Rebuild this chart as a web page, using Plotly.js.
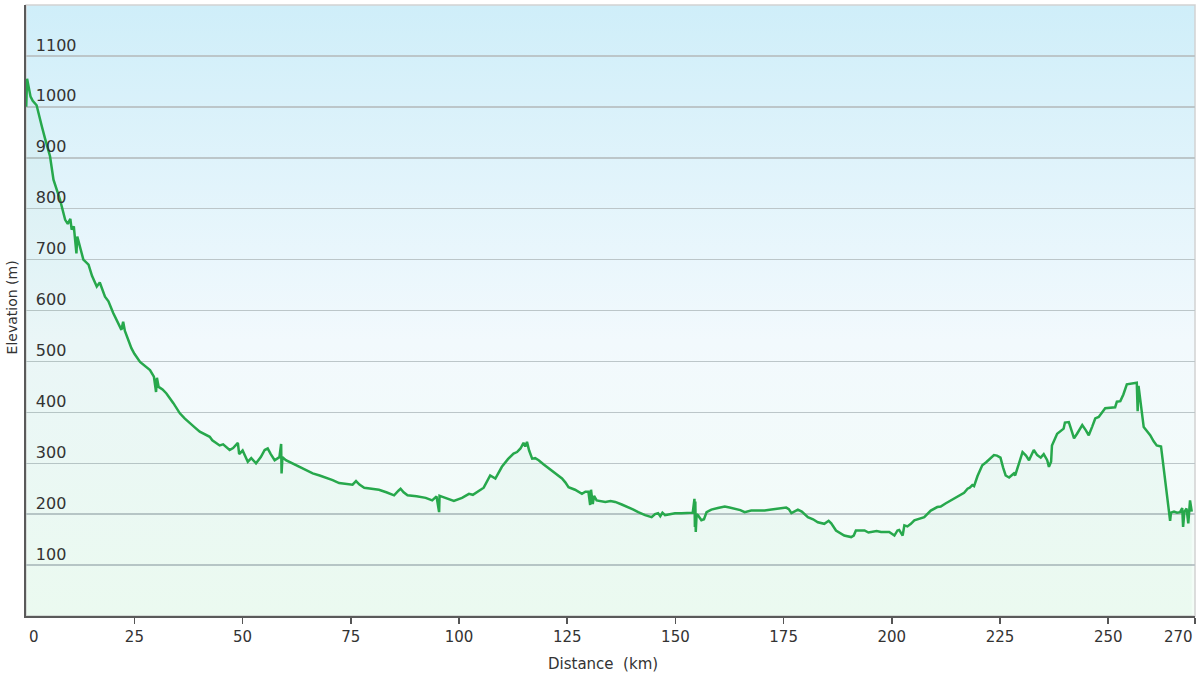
<!DOCTYPE html>
<html>
<head>
<meta charset="utf-8">
<script src="https://cdn.plot.ly/plotly-3.0.1.min.js"></script>
<style>
  html, body { margin: 0; padding: 0; background: #fff; }
  #profile { width: 1200px; height: 675px; }
</style>
</head>
<body>
<div id="profile"></div>
<script>
// distance along the route (km) and elevation (m)
const distanceKm = [
  0.0, 0.2, 1.0, 1.5, 2.4, 3.0, 3.6, 4.4, 5.5, 6.3, 7.0, 7.8, 9.0, 9.6, 10.2, 10.5,
  11.0, 11.6, 11.8, 13.2, 14.4, 15.2, 16.3, 17.0, 18.2, 19.0, 20.1, 21.2, 22.0, 22.4,
  22.8, 24.3, 25.0, 26.3, 27.5, 28.6, 29.5, 30.0, 30.2, 30.6, 31.5, 32.4, 34.0, 35.5,
  36.6, 37.8, 39.0, 40.1, 41.3, 42.4, 43.0, 44.7, 45.5, 47.0, 47.8, 48.9, 49.2, 50.0,
  51.2, 52.0, 53.1, 54.2, 55.1, 55.8, 56.5, 57.4, 58.5, 58.9, 59.0, 59.2, 60.0, 61.5,
  63.1, 64.5, 66.2, 67.8, 69.3, 70.8, 72.3, 73.5, 74.6, 75.4, 76.2, 77.0, 78.1, 79.8,
  81.5, 83.2, 85.0, 86.0, 86.5, 87.2, 88.1, 90.2, 92.3, 93.8, 94.8, 95.4, 95.5, 96.2,
  97.5, 98.8, 100.7, 102.3, 103.2, 104.6, 105.7, 107.2, 108.4, 109.9, 111.3, 112.6,
  113.4, 114.2, 114.9, 115.3, 115.7, 116.2, 116.9, 117.6, 118.4, 119.5, 120.7, 122.3,
  123.8, 124.6, 125.3, 126.8, 128.4, 129.2, 129.9, 130.3, 130.5, 130.9, 131.2, 131.8,
  133.8, 135.0, 136.1, 137.6, 139.1, 140.3, 141.4, 143.0, 144.5, 145.3, 146.0, 146.5,
  147.0, 147.6, 148.7, 149.9, 151.4, 152.9, 154.0, 154.4, 154.5, 154.6, 154.7, 154.9,
  155.2, 156.0, 156.6, 157.2, 158.3, 159.8, 161.4, 162.5, 163.7, 165.0, 166.0, 167.5,
  169.0, 170.6, 172.2, 173.7, 175.6, 176.2, 176.8, 178.3, 179.2, 180.6, 181.8, 182.9,
  184.4, 185.4, 186.0, 187.1, 188.0, 189.0, 190.6, 191.2, 191.7, 192.7, 193.7, 194.6,
  195.6, 196.5, 197.5, 199.4, 200.6, 201.3, 201.7, 202.2, 202.5, 202.9, 203.6, 204.4,
  205.2, 207.5, 209.0, 210.5, 211.3, 212.4, 213.6, 214.8, 215.9, 216.7, 217.5, 218.0,
  218.6, 219.0, 219.8, 220.9, 221.8, 222.8, 223.6, 224.3, 225.1, 225.7, 226.3, 227.1,
  227.6, 228.2, 228.5, 229.2, 230.2, 231.0, 231.7, 232.8, 233.6, 234.4, 235.1, 235.9,
  236.3, 236.8, 237.0, 238.2, 239.7, 240.0, 240.9, 241.5, 242.1, 242.8, 244.0, 244.8,
  245.5, 246.3, 247.0, 247.8, 248.5, 249.3, 251.6, 252.0, 252.8, 253.5, 254.3, 256.6,
  256.8, 257.0, 258.2, 259.0, 259.7, 260.5, 261.2, 262.2, 263.1, 264.0, 264.3, 264.5,
  265.2, 265.9, 266.6, 267.1, 267.3, 267.6, 268.1, 268.5, 268.9, 269.3
];
const elevationM = [
  1000, 1055, 1020, 1012, 1003, 985, 962, 936, 903, 857, 840, 818, 778, 770, 780, 759,
  765, 712, 745, 700, 690, 668, 647, 655, 627, 618, 595, 575, 562, 578,
  560, 526, 515, 499, 490, 483, 470, 440, 468, 450, 445, 437, 418, 398,
  388, 378, 370, 362, 357, 352, 345, 335, 337, 326, 330, 340, 318, 325,
  303, 310, 300, 312, 326, 329, 318, 306, 312, 338, 280, 312, 306, 300,
  293, 287, 280, 276, 272, 267, 261, 260, 260, 258, 265, 258, 252, 250,
  248, 243, 237, 246, 250, 243, 237, 235, 232, 227, 235, 204, 236, 234,
  230, 226, 232, 240, 238, 245, 252, 276, 270, 293, 308, 319,
  322, 329, 340, 333, 342, 325, 309, 310, 306, 298, 290, 280,
  270, 262, 253, 248, 240, 244, 244, 218, 248, 220, 236, 227,
  224, 226, 224, 219, 214, 209, 204, 198, 194, 200, 202, 196,
  203, 198, 200, 202, 202, 202, 203, 230, 175, 225, 165, 200,
  198, 188, 190, 204, 209, 212, 215, 213, 211, 208, 204, 207,
  207, 207, 209, 211, 213, 210, 202, 209, 205, 194, 190, 184,
  181, 187, 182, 168, 163, 158, 155, 158, 168, 168, 168, 164,
  165, 167, 165, 165, 158, 168, 169, 162, 158, 178, 176, 181,
  188, 194, 207, 214, 215, 221, 227, 233, 237, 242, 250, 252,
  257, 255, 275, 296, 302, 310, 316, 315, 311, 292, 276, 272,
  275, 280, 276, 295, 322, 315, 306, 326, 316, 311, 318, 306,
  293, 303, 335, 358, 368, 380, 381, 365, 349, 358, 375, 365,
  355, 372, 388, 391, 398, 408, 410, 421, 422, 435, 455, 458,
  402, 452, 371, 363, 355, 343, 335, 333, 265, 201, 187, 203,
  205, 203, 204, 212, 175, 205, 211, 182, 227, 205
];

const elevationTicks = [100, 200, 300, 400, 500, 600, 700, 800, 900, 1000, 1100];
const distanceTicks = [0, 25, 50, 75, 100, 125, 150, 175, 200, 225, 250, 270];
// the two end labels hug the plot edges, so they are drawn as annotations
const distanceTickText = ['', '25', '50', '75', '100', '125', '150', '175', '200', '225', '250', ''];
const distanceStart = 0;
const distanceEnd = 270;

// sky-to-meadow background behind the plot area
const bgSvg = "<svg xmlns='http://www.w3.org/2000/svg' width='10' height='100' preserveAspectRatio='none'>"
  + "<defs><linearGradient id='g' x1='0' y1='0' x2='0' y2='1'>"
  + "<stop offset='0' stop-color='#cfeef9'/>"
  + "<stop offset='0.55' stop-color='#f2f9fd'/>"
  + "<stop offset='1' stop-color='#f3fdf6'/>"
  + "</linearGradient></defs><rect width='10' height='100' fill='url(#g)'/></svg>";

const profile = [
  {
    x: distanceKm,
    y: elevationM,
    type: 'scatter',
    mode: 'lines',
    fill: 'tozeroy',
    fillcolor: 'rgba(60, 190, 110, 0.045)',
    line: { color: '#27a84c', width: 2.5 },
    hoverinfo: 'x+y',
  },
];

const tickFont = { family: 'DejaVu Sans, Verdana, sans-serif', size: 15, color: '#333' };

const layout = {
  width: 1200,
  height: 675,
  margin: { l: 26, r: 5, t: 5, b: 59 },
  paper_bgcolor: '#ffffff',
  plot_bgcolor: 'rgba(0,0,0,0)',
  showlegend: false,
  font: { family: 'DejaVu Sans, Verdana, sans-serif', size: 15, color: '#333' },
  images: [
    {
      source: 'data:image/svg+xml;charset=utf-8,' + encodeURIComponent(bgSvg),
      xref: 'paper',
      yref: 'paper',
      x: 0,
      y: 1,
      sizex: 1,
      sizey: 1,
      xanchor: 'left',
      yanchor: 'top',
      sizing: 'stretch',
      layer: 'below',
    },
  ],
  shapes: [
    {
      type: 'rect',
      xref: 'paper',
      yref: 'paper',
      x0: 0,
      x1: 1,
      y0: 0,
      y1: 1,
      line: { color: '#d2d2d2', width: 1.5 },
      layer: 'below',
    },
  ],
  xaxis: {
    range: [-0.05, 270.05],
    tickvals: distanceTicks,
    ticktext: distanceTickText,
    ticks: 'outside',
    ticklen: 6,
    tickwidth: 1.5,
    tickcolor: '#555',
    showgrid: false,
    zeroline: false,
    showline: true,
    linecolor: '#5a5a5a',
    linewidth: 2,
    tickfont: tickFont,
    fixedrange: true,
  },
  yaxis: {
    range: [0, 1200],
    tickvals: elevationTicks,
    ticks: '',
    ticklabelposition: 'inside',
    ticklabelstandoff: 10,
    ticklabelshift: -11,
    showgrid: true,
    gridcolor: '#bcc6c9',
    gridwidth: 1.5,
    zeroline: false,
    showline: true,
    linecolor: '#5a5a5a',
    linewidth: 2,
    tickfont: { size: 16, color: '#333' },
    fixedrange: true,
  },
  annotations: [
    {
      text: String(distanceStart),
      xref: 'x',
      yref: 'paper',
      x: distanceStart,
      y: -0.034,
      xanchor: 'left',
      yanchor: 'middle',
      xshift: 1,
      showarrow: false,
      font: tickFont,
    },
    {
      text: String(distanceEnd),
      xref: 'x',
      yref: 'paper',
      x: distanceEnd,
      y: -0.034,
      xanchor: 'right',
      yanchor: 'middle',
      showarrow: false,
      font: tickFont,
    },
    {
      text: 'Elevation (m)',
      xref: 'paper',
      yref: 'paper',
      x: -0.012,
      y: 0.505,
      xanchor: 'center',
      yanchor: 'middle',
      textangle: -90,
      showarrow: false,
      font: { size: 14, color: '#333' },
    },
    {
      text: 'Distance&nbsp; (km)',
      xref: 'paper',
      yref: 'paper',
      x: 0.494,
      y: -0.079,
      xanchor: 'center',
      yanchor: 'middle',
      showarrow: false,
      font: { size: 15, color: '#333' },
    },
  ],
};

Plotly.newPlot('profile', profile, layout, { displayModeBar: false, staticPlot: true });
</script>
</body>
</html>
